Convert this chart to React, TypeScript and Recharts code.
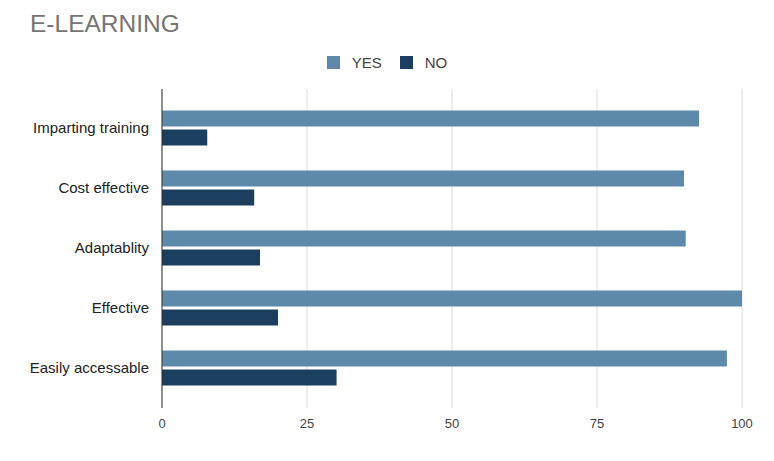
import React from 'react';
import { BarChart, Bar, XAxis, YAxis, CartesianGrid } from 'recharts';

const categories = ['Imparting training', 'Cost effective', 'Adaptablity', 'Effective', 'Easily accessable'];
const yesValues = [92.6, 90, 90.3, 100, 97.4];
const noValues = [7.8, 15.9, 16.9, 20, 30.1];
const xTicks = [0, 25, 50, 75, 100];
const seriesNames = ['YES', 'NO'];

const YES_COLOR = '#5d89aa';
const NO_COLOR = '#1c3f60';
const seriesColors = [YES_COLOR, NO_COLOR];
const FONT = "Arial, 'Liberation Sans', sans-serif";

const data = categories.map((c, i) => ({ name: c, YES: yesValues[i], NO: noValues[i] }));

export default function App() {
  return (
    <div style={{ position: 'absolute', left: 0, top: 0, width: 774, height: 461, background: '#fff' }}>
      <div style={{ position: 'absolute', left: 30, top: 12, fontFamily: FONT, fontSize: 24.5, lineHeight: '24px', color: '#757575' }}>
        E-LEARNING
      </div>
      <div style={{ position: 'absolute', left: 0, top: 54, width: 774, height: 16, display: 'flex', justifyContent: 'center', alignItems: 'center', fontFamily: FONT, fontSize: 15, color: '#444' }}>
        {seriesNames.map((n, i) => (
          <div key={n} style={{ display: 'flex', alignItems: 'center', marginLeft: i === 0 ? 0 : 18 }}>
            <div style={{ width: 13, height: 13, background: seriesColors[i], marginRight: 12 }} />
            <span>{n}</span>
          </div>
        ))}
      </div>
      <BarChart
        width={774}
        height={461}
        data={data}
        layout="vertical"
        margin={{ top: 89, right: 32, bottom: 23, left: 0 }}
        barSize={16}
        barGap={3}
      >
        <CartesianGrid horizontal={false} stroke="#dcdcdc" />
        <XAxis
          type="number"
          domain={[0, 100]}
          ticks={xTicks}
          axisLine={false}
          tickLine={false}
          tickMargin={5}
          height={30}
          tick={{ fontFamily: FONT, fontSize: 13, fill: '#444' }}
        />
        <YAxis
          type="category"
          dataKey="name"
          width={162}
          padding={{ top: 8.5, bottom: 10.5 }}
          axisLine={{ stroke: '#333' }}
          tickLine={false}
          tickMargin={7}
          tick={{ fontFamily: FONT, fontSize: 15, fill: '#222' }}
        />
        <Bar dataKey="YES" fill={YES_COLOR} isAnimationActive={false} />
        <Bar dataKey="NO" fill={NO_COLOR} isAnimationActive={false} />
      </BarChart>
    </div>
  );
}
